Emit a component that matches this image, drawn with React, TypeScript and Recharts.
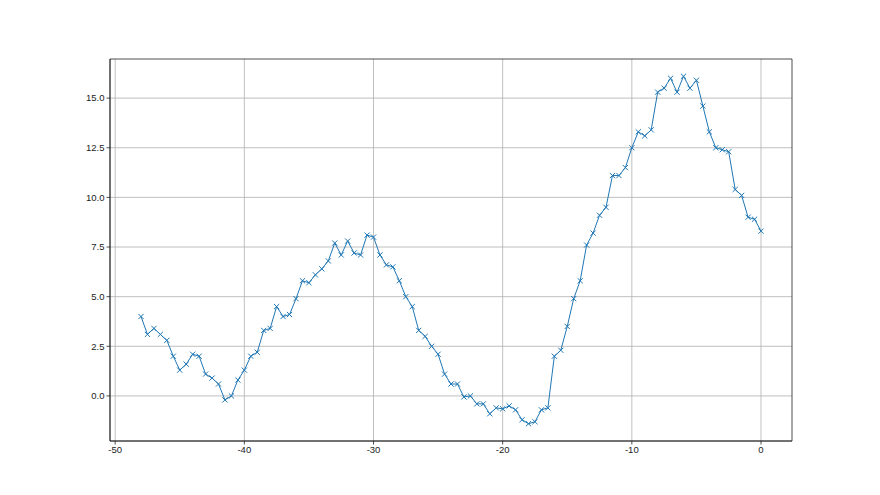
import React from 'react';
import { LineChart, Line, XAxis, YAxis, CartesianGrid, ReferenceArea } from 'recharts';

const xStart = -48;
const xStep = 0.5;

const values = [
  4.0, 3.1, 3.4, 3.1, 2.8, 2.0, 1.3, 1.6, 2.1, 2.0,
  1.1, 0.9, 0.6, -0.2, 0.0, 0.8, 1.3, 2.0, 2.2, 3.3,
  3.4, 4.5, 4.0, 4.1, 4.9, 5.8, 5.7, 6.1, 6.4, 6.8,
  7.7, 7.1, 7.8, 7.2, 7.1, 8.1, 8.0, 7.1, 6.6, 6.5,
  5.8, 5.0, 4.5, 3.3, 3.0, 2.5, 2.1, 1.1, 0.6, 0.6,
  -0.05, 0.0, -0.4, -0.4, -0.9, -0.6, -0.65, -0.5, -0.7, -1.2,
  -1.4, -1.3, -0.7, -0.6, 2.0, 2.3, 3.5, 4.9, 5.8, 7.6,
  8.2, 9.1, 9.5, 11.1, 11.1, 11.5, 12.5, 13.3, 13.1, 13.4,
  15.3, 15.5, 16.0, 15.3, 16.1, 15.5, 15.9, 14.6, 13.3, 12.5,
  12.4, 12.3, 10.4, 10.1, 9.0, 8.9, 8.3,
];

const xTicks = [-50, -40, -30, -20, -10, 0];
const yTicks = [0, 2.5, 5, 7.5, 10, 12.5, 15];

const data = values.map((v, i) => ({ x: xStart + i * xStep, y: v }));

const xDomain: [number, number] = [-50.4, 2.4];
const yDomain: [number, number] = [-2.27, 16.97];

const fmtX = (v: number) => String(v);
const fmtY = (v: number) => v.toFixed(1);

const XMark = (props: any) => {
  const { cx, cy } = props;
  if (cx == null || cy == null) return null;
  const r = 2.6;
  return (
    <path
      d={`M${cx - r},${cy - r}L${cx + r},${cy + r}M${cx - r},${cy + r}L${cx + r},${cy - r}`}
      stroke="#1f77b4"
      strokeWidth={1}
      fill="none"
    />
  );
};

const tickStyle = { fontFamily: 'Liberation Sans', fontSize: 9.5, fill: '#222' };

export default function App() {
  return (
    <div style={{ position: 'absolute', left: 0, top: 0, background: '#fff' }}>
      <LineChart width={880} height={495} data={data} margin={{ top: 59, right: 88, bottom: 24, left: 50 }}>
        <CartesianGrid stroke="#b0b0b0" strokeWidth={0.8} horizontalValues={yTicks} verticalValues={xTicks} />
        <XAxis
          dataKey="x"
          type="number"
          domain={xDomain}
          ticks={xTicks}
          allowDataOverflow
          tickFormatter={fmtX}
          tick={tickStyle}
          tickSize={3.5}
          tickMargin={2}
          height={30}
          axisLine={{ stroke: '#222', strokeWidth: 0.8 }}
          tickLine={{ stroke: '#222', strokeWidth: 0.8 }}
        />
        <YAxis
          type="number"
          domain={yDomain}
          ticks={yTicks}
          allowDataOverflow
          tickFormatter={fmtY}
          tick={tickStyle}
          tickSize={3.5}
          tickMargin={2}
          width={60}
          axisLine={{ stroke: '#222', strokeWidth: 0.8 }}
          tickLine={{ stroke: '#222', strokeWidth: 0.8 }}
        />
        <ReferenceArea
          x1={xDomain[0]}
          x2={xDomain[1]}
          y1={yDomain[0]}
          y2={yDomain[1]}
          fill="none"
          stroke="#222"
          strokeWidth={0.8}
          ifOverflow="visible"
        />
        <Line
          dataKey="y"
          stroke="#1f77b4"
          strokeWidth={1}
          dot={<XMark />}
          activeDot={false}
          isAnimationActive={false}
        />
      </LineChart>
    </div>
  );
}
